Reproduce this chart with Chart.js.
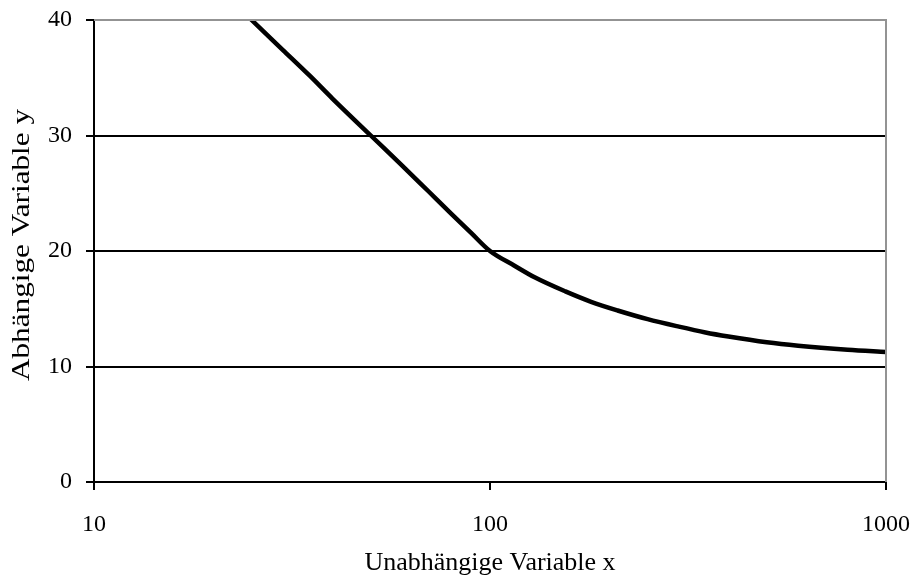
<!DOCTYPE html>
<html>
<head>
<meta charset="utf-8">
<script src="https://cdn.jsdelivr.net/npm/chart.js@4.4.1/dist/chart.umd.min.js"></script>
<style>
  html, body { margin: 0; padding: 0; background: #fff; }
  #wrap { width: 914px; height: 585px; }
</style>
</head>
<body>
<div id="wrap"><canvas id="chart" width="914" height="585"></canvas></div>
<script>
// curve samples (x on log scale)
const xValues = [20, 25, 30, 35, 40, 50, 60, 70, 80, 90, 100, 115, 130, 155, 180, 210, 250, 300, 350, 400, 500, 600, 800, 1000];
const yValues = [43.2, 40, 37.4, 35.2, 33.2, 30, 27.4, 25.15, 23.2, 21.5, 20, 18.75, 17.7, 16.5, 15.6, 14.85, 14.1, 13.45, 12.95, 12.6, 12.1, 11.8, 11.45, 11.25];
const xTicks = [10, 100, 1000];
const yTicks = [0, 10, 20, 30, 40];
const yTitle = 'Abhängige Variable y';

const points = xValues.map((x, i) => ({ x: x, y: yValues[i] }));
const serif = '"Liberation Serif", "Times New Roman", serif';
const tickFont = { family: serif, size: 24 };

// labels may hang over the plot edges; the outer padding leaves room for them
function noOverhang(scale) {
    scale.paddingLeft = 0;
    scale.paddingRight = 0;
    scale.paddingTop = 0;
    scale.paddingBottom = 0;
}

// gray frame on the top and right of the plot area, plus the rotated y title
const frame = {
    id: 'frame',
    afterDatasetsDraw: function(chart) {
        const a = chart.chartArea;
        const ctx = chart.ctx;
        ctx.save();
        ctx.strokeStyle = '#939393';
        ctx.lineWidth = 2;
        ctx.beginPath();
        ctx.moveTo(a.left, a.top);
        ctx.lineTo(a.right, a.top);
        ctx.lineTo(a.right, a.bottom);
        ctx.stroke();
        ctx.restore();
    },
    afterDraw: function(chart) {
        const ctx = chart.ctx;
        const a = chart.chartArea;
        ctx.save();
        ctx.translate(22, (a.top + a.bottom) / 2 - 6);
        ctx.rotate(-Math.PI / 2);
        ctx.scale(1.2, 1);
        ctx.font = '26px ' + serif;
        ctx.fillStyle = '#000';
        ctx.textAlign = 'center';
        ctx.textBaseline = 'middle';
        ctx.fillText(yTitle, 0, 0);
        ctx.restore();
    }
};

new Chart(document.getElementById('chart'), {
    type: 'scatter',
    data: {
        datasets: [{
            data: points,
            showLine: true,
            borderColor: '#000',
            borderWidth: 4.5,
            pointRadius: 0,
            cubicInterpolationMode: 'monotone'
        }]
    },
    options: {
        responsive: false,
        animation: false,
        layout: { padding: { top: 20, right: 28, left: 0, bottom: 0 } },
        plugins: { legend: { display: false }, tooltip: { enabled: false } },
        scales: {
            x: {
                type: 'logarithmic',
                min: 10,
                max: 1000,
                afterBuildTicks: function(scale) {
                    scale.ticks = xTicks.map(v => ({ value: v }));
                },
                afterFit: function(scale) { scale.height = 103; noOverhang(scale); },
                border: { color: '#000', width: 2 },
                grid: { drawOnChartArea: false, drawTicks: true, tickLength: 8, color: '#000', lineWidth: 2 },
                ticks: { color: '#000', font: tickFont, padding: 20, maxRotation: 0,
                    callback: function(v) { return String(v); } },
                title: { display: true, text: 'Unabhängige Variable x', color: '#000',
                    font: { family: serif, size: 26 }, padding: { top: 12, bottom: 6 } }
            },
            y: {
                min: 0,
                max: 40,
                afterBuildTicks: function(scale) {
                    scale.ticks = yTicks.map(v => ({ value: v }));
                },
                afterFit: function(scale) { scale.width = 94; noOverhang(scale); },
                border: { color: '#000', width: 2 },
                grid: {
                    color: function(c) { return c.tick && c.tick.value === 40 ? 'rgba(0,0,0,0)' : '#000'; },
                    tickColor: '#000',
                    lineWidth: 2,
                    tickLength: 8
                },
                ticks: { color: '#000', font: tickFont, padding: 14 },
                title: { display: false }
            }
        }
    },
    plugins: [frame]
});
</script>
</body>
</html>
